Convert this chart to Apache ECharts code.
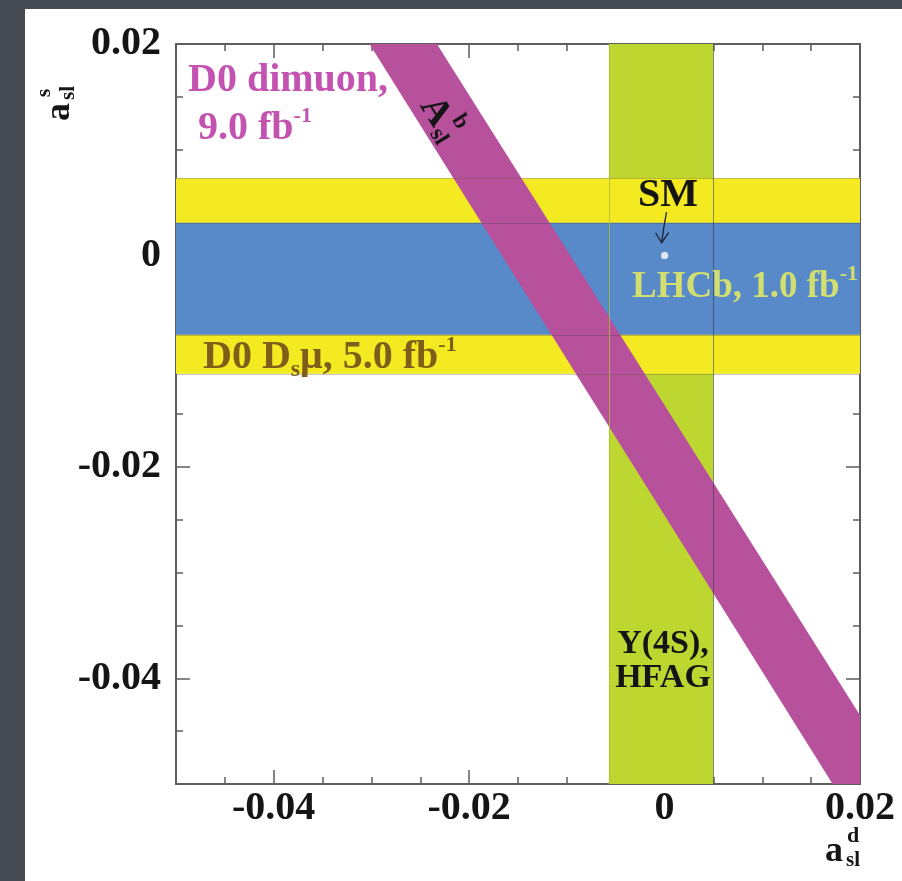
<!DOCTYPE html>
<html>
<head>
<meta charset="utf-8">
<script src="https://cdn.jsdelivr.net/npm/echarts@6/dist/echarts.min.js"></script>
<style>
  html, body { margin: 0; padding: 0; background: #454a53; }
  #c { width: 902px; height: 881px; }
</style>
</head>
<body>
<div id="c"></div>
<script>
// Axis ranges and labelled ticks (a_sl^d horizontally, a_sl^s vertically)
const xRange = [-0.05, 0.02];
const yRange = [-0.05, 0.02];
const xMajorTicks = [-0.04, -0.02, 0, 0.02];
const xTickLabels = ['-0.04', '-0.02', '0', '0.02'];
const yMajorTicks = [-0.04, -0.02, 0, 0.02];
const yTickLabels = ['-0.04', '-0.02', '0', '0.02'];
const minorStep = 0.005;

// Measurement bands
const hfagAsld = [-0.0057, 0.0050];      // Y(4S), HFAG : a_sl^d interval
const d0DsmuAsls = [-0.0112, 0.0073];    // D0 Ds mu    : a_sl^s interval
const lhcbAsls = [-0.0075, 0.0031];      // LHCb        : a_sl^s interval
// D0 dimuon A_sl^b band, outline vertices [a_sl^d, a_sl^s]
const dimuonBand = [[-0.0302, 0.02], [-0.0233, 0.02], [0.02, -0.0435], [0.02, -0.05], [0.0172, -0.05]];
// Standard Model expectation and its pointer
const smPoint = [0, 0];
const smArrow = [0.0002, 0.0041, -0.0003, 0.0012];

const serif = '"Liberation Serif", "DejaVu Serif", "Times New Roman", serif';
const axisColor = '#5e5e5e';
const colors = {
  hfag: '#bed630',
  yellow: '#f4ea22',
  blue: '#5889c8',
  magenta: '#b8519c',
  dimuonText: '#c452b1',
  lhcbText: '#d2df70',
  dsmuText: '#7e5e18',
  ink: '#151515'
};

function tickFormatter(values, labels) {
  return v => {
    const i = values.findIndex(t => Math.abs(t - v) < 1e-9);
    return i < 0 ? '' : labels[i];
  };
}

function minorAxis(pos) {
  return {
    type: 'value', min: xRange[0], max: xRange[1], interval: minorStep, position: pos,
    axisLine: { show: true, onZero: false, lineStyle: { color: axisColor, width: 2 } },
    axisTick: { show: true, inside: true, length: 7, lineStyle: { color: axisColor, width: 1.5 } },
    axisLabel: { show: false },
    splitLine: { show: false }
  };
}
function majorAxis(pos, ticks, labels, showLabel, margin) {
  return {
    type: 'value', min: xRange[0], max: xRange[1], position: pos,
    axisLine: { show: false, onZero: false },
    axisTick: { show: true, inside: true, length: 14, customValues: ticks, lineStyle: { color: axisColor, width: 1.5 } },
    axisLabel: {
      show: showLabel, customValues: ticks, formatter: tickFormatter(ticks, labels), margin: margin,
      fontFamily: serif, fontWeight: 'bold', fontSize: 40, color: colors.ink
    },
    splitLine: { show: false }
  };
}

function rectItem(api, x0, x1, y0, y1, style) {
  const a = api.coord([x0, y1]);
  const b = api.coord([x1, y0]);
  return { type: 'rect', shape: { x: a[0], y: a[1], width: b[0] - a[0], height: b[1] - a[1] }, style: style };
}

const series = [
  { // Y(4S), HFAG vertical band
    type: 'custom', silent: true, data: [[hfagAsld[0], hfagAsld[1]]],
    renderItem: (p, api) => rectItem(api, api.value(0), api.value(1), yRange[0], yRange[1], { fill: colors.hfag })
  },
  { // D0 Ds mu horizontal band
    type: 'custom', silent: true, data: [[xRange[0], d0DsmuAsls[0], xRange[1], d0DsmuAsls[1]]],
    renderItem: (p, api) => rectItem(api, api.value(0), api.value(2), api.value(1), api.value(3), { fill: colors.yellow })
  },
  { // LHCb horizontal band
    type: 'custom', silent: true, data: [[xRange[0], lhcbAsls[0], xRange[1], lhcbAsls[1]]],
    renderItem: (p, api) => rectItem(api, api.value(0), api.value(2), api.value(1), api.value(3), { fill: colors.blue })
  },
  { // D0 dimuon A_sl^b diagonal band
    type: 'custom', silent: true, data: dimuonBand,
    renderItem: (p, api) => {
      if (p.dataIndex !== 0) return null;
      return { type: 'polygon', shape: { points: dimuonBand.map(v => api.coord(v)) }, style: { fill: colors.magenta } };
    }
  },
  { // thin box outlines drawn over the fills
    type: 'custom', silent: true, data: [[0, 0]],
    renderItem: (p, api) => {
      const lines = [];
      const hLine = (y, c) => {
        const a = api.coord([xRange[0], y]), b = api.coord([xRange[1], y]);
        lines.push({ type: 'line', shape: { x1: a[0], y1: Math.round(a[1]) + 0.5, x2: b[0], y2: Math.round(b[1]) + 0.5 }, style: { stroke: c, lineWidth: 1 } });
      };
      const vLine = (x, c) => {
        const a = api.coord([x, yRange[1]]), b = api.coord([x, yRange[0]]);
        lines.push({ type: 'line', shape: { x1: Math.round(a[0]) + 0.5, y1: a[1], x2: Math.round(b[0]) + 0.5, y2: b[1] }, style: { stroke: c, lineWidth: 1 } });
      };
      hLine(d0DsmuAsls[1], 'rgba(90,90,60,0.35)');
      hLine(d0DsmuAsls[0], 'rgba(90,90,60,0.35)');
      hLine(lhcbAsls[1], 'rgba(60,60,80,0.3)');
      hLine(lhcbAsls[0], 'rgba(60,60,80,0.3)');
      vLine(hfagAsld[0], 'rgba(170,190,60,0.8)');
      vLine(hfagAsld[1], 'rgba(40,50,70,0.55)');
      return { type: 'group', children: lines };
    }
  },
  { // SM point
    type: 'scatter', data: [smPoint], symbolSize: 7, silent: true,
    itemStyle: { color: '#ffffff', borderColor: '#e8ecd8', borderWidth: 0.5 }, z: 5
  },
  { // arrow from the SM label to the point
    type: 'custom', silent: true, data: [smArrow], z: 5,
    renderItem: (p, api) => {
      const a = api.coord([api.value(0), api.value(1)]);
      const b = api.coord([api.value(2), api.value(3)]);
      const st = { stroke: '#1d2330', lineWidth: 1.3, fill: 'none' };
      return {
        type: 'group', children: [
          { type: 'bezierCurve', shape: { x1: a[0], y1: a[1], x2: b[0], y2: b[1], cpx1: a[0] - 3, cpy1: (a[1] + b[1]) / 2 }, style: st },
          { type: 'polyline', shape: { points: [[b[0] - 6, b[1] - 10], b, [b[0] + 7, b[1] - 10]] }, style: st }
        ]
      };
    }
  }
];

function label(x, y, text, size, fill, align, vAlign, rich) {
  return {
    type: 'text', z: 50, silent: true,
    style: {
      x: x, y: y, text: text, fill: fill, align: align || 'left', verticalAlign: vAlign || 'middle',
      font: 'bold ' + size + 'px ' + serif, rich: rich
    }
  };
}

function supRich(fill, size) {
  return {
    m: { fontFamily: serif, fontWeight: 'bold', fontSize: size, lineHeight: 48, color: fill },
    s: { fontFamily: serif, fontWeight: 'bold', fontSize: 22, lineHeight: 18, verticalAlign: 'top', color: fill },
    d: { fontFamily: serif, fontWeight: 'bold', fontSize: 24, lineHeight: 26, verticalAlign: 'bottom', color: fill }
  };
}

const graphic = [
  { type: 'rect', z: -1, silent: true, shape: { x: 25, y: 9, width: 900, height: 900 }, style: { fill: '#ffffff' } },
  label(188, 81, 'D0 dimuon,', 40, colors.dimuonText),
  label(198, 105, '{m|9.0 fb}{s|-1}', 40, colors.dimuonText, 'left', 'top', supRich(colors.dimuonText, 40)),
  label(203, 334, '{m|D0 D}{d|s}{m|μ, 5.0 fb}{s|-1}', 40, colors.dsmuText, 'left', 'top', supRich(colors.dsmuText, 40)),
  label(632, 263, '{m|LHCb, 1.0 fb}{s|-1}', 37, colors.lhcbText, 'left', 'top', supRich(colors.lhcbText, 37)),
  label(668, 196, 'SM', 40, colors.ink, 'center'),
  label(663, 644, 'Y(4S),', 34, colors.ink, 'center'),
  label(663, 678, 'HFAG', 34, colors.ink, 'center'),
  { // A_sl^b written along the diagonal band
    type: 'group', x: 435, y: 112, rotation: -58 * Math.PI / 180, z: 50, silent: true,
    children: [
      label(0, 0, 'A', 38, colors.ink, 'center'),
      label(15, -16, 'b', 23, colors.ink, 'left'),
      label(15, 10, 'sl', 23, colors.ink, 'left')
    ]
  },
  { // a_sl^d axis title
    type: 'group', x: 834, y: 852, z: 50, silent: true,
    children: [
      label(0, 0, 'a', 36, colors.ink, 'center'),
      label(19, -16, 'd', 22, colors.ink, 'center'),
      label(12, 9, 'sl', 21, colors.ink, 'left')
    ]
  },
  { // a_sl^s axis title
    type: 'group', x: 60, y: 112, rotation: Math.PI / 2, z: 50, silent: true,
    children: [
      label(0, 0, 'a', 36, colors.ink, 'center'),
      label(19, -16, 's', 22, colors.ink, 'center'),
      label(12, 9, 'sl', 21, colors.ink, 'left')
    ]
  }
];

const chart = echarts.init(document.getElementById('c'), null, { renderer: 'canvas' });
chart.setOption({
  animation: false,
  backgroundColor: '#454a53',
  grid: { left: 176, top: 44, width: 684, height: 740, containLabel: false },
  xAxis: [
    minorAxis('bottom'),
    majorAxis('bottom', xMajorTicks, xTickLabels, true, 5),
    minorAxis('top'),
    majorAxis('top', xMajorTicks, xTickLabels, false, 5)
  ],
  yAxis: [
    minorAxis('left'),
    majorAxis('left', yMajorTicks, yTickLabels, true, 15),
    minorAxis('right'),
    majorAxis('right', yMajorTicks, yTickLabels, false, 15)
  ],
  series: series,
  graphic: graphic
});
</script>
</body>
</html>
